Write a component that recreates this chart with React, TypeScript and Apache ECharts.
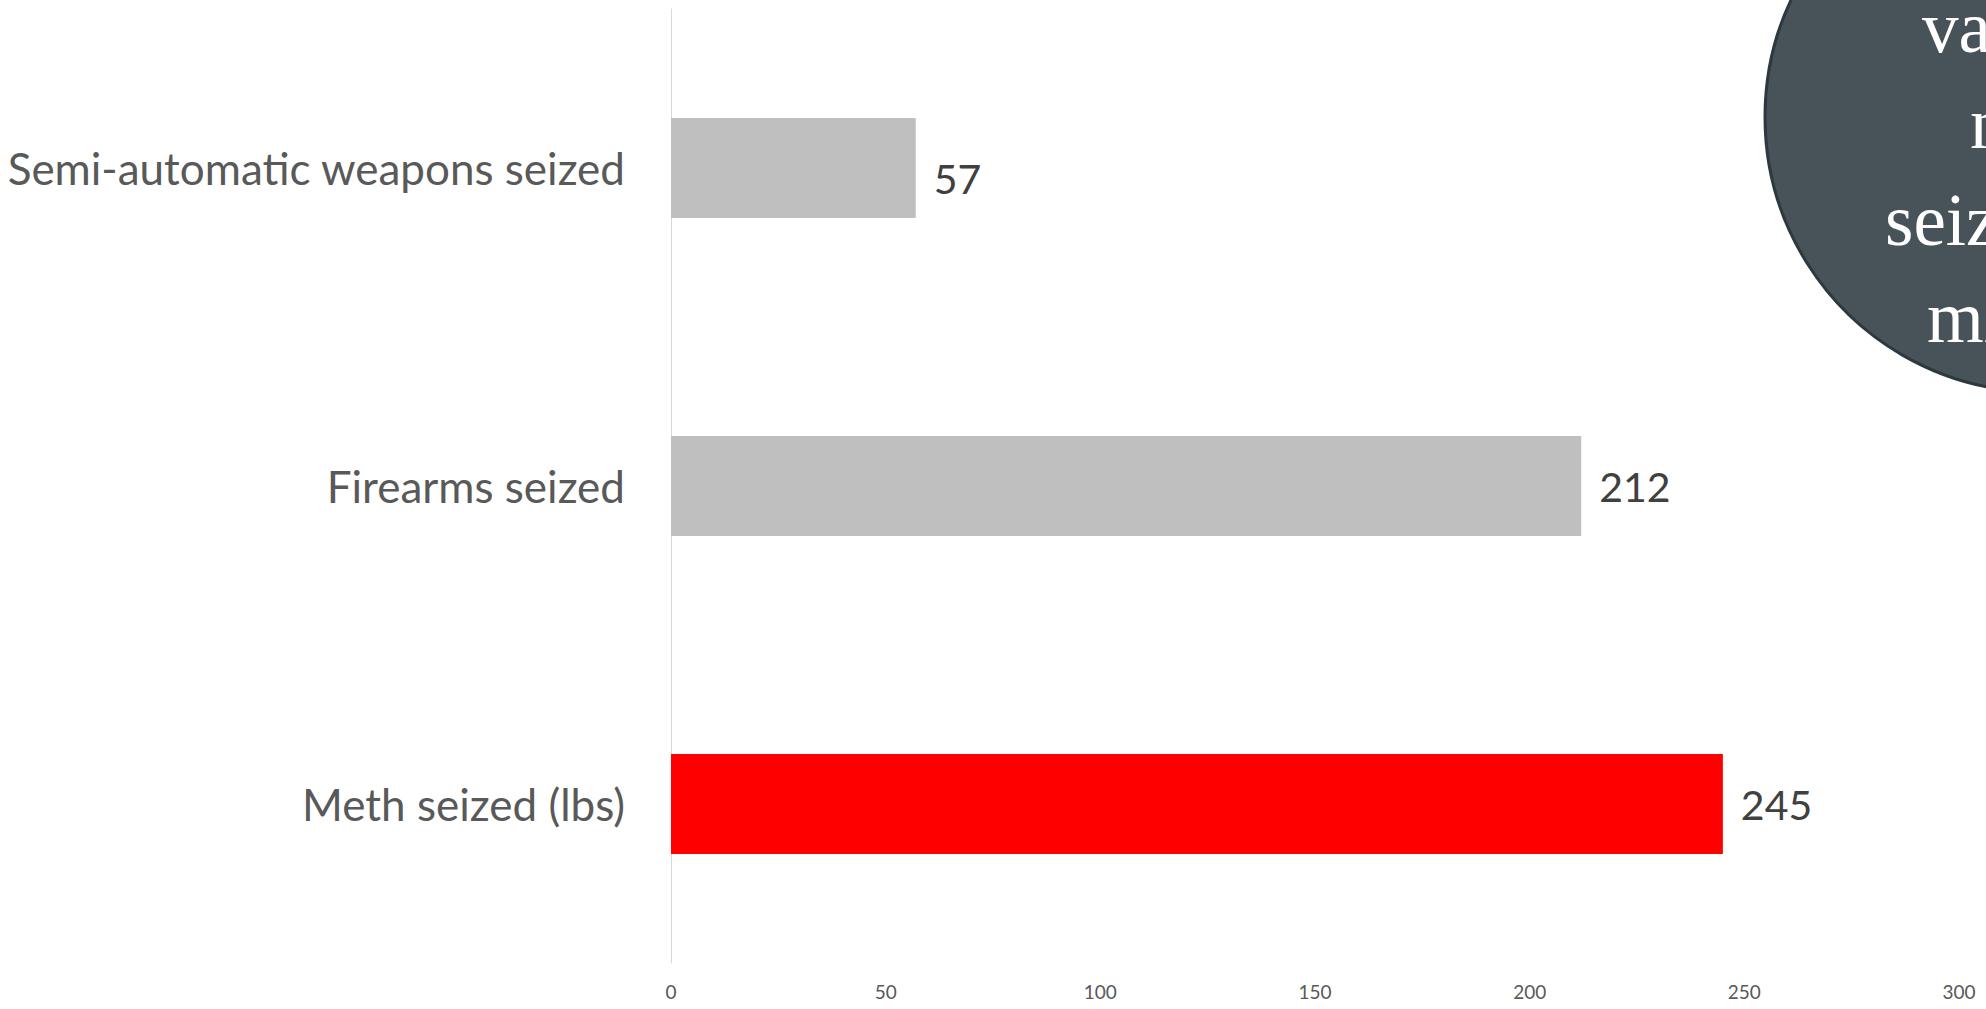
import React, { useEffect, useRef } from "react";
import * as echarts from "echarts";

const categories = ["Semi-automatic weapons seized", "Firearms seized", "Meth seized (lbs)"];
const values = [57, 212, 245];
const barColors = ["#bfbfbf", "#bfbfbf", "#ff0000"];
const labelShift = [10, 0, 0];
const xTicks = { min: 0, max: 300, interval: 50 };
const bubbleLines = ["Estimated street", "value of", "narcotics", "seized in", "million"];

export default function App() {
  const ref = useRef<HTMLDivElement>(null);
  useEffect(() => {
    if (!ref.current) return;
    const chart = echarts.init(ref.current, null, { renderer: "svg" });
    const lineX = [1900, 1922, 1970, 1885, 1927];
    const lineY = [-34, 64, 160, 257, 354];
    chart.setOption({
      animation: false,
      backgroundColor: "#ffffff",
      grid: { left: 671, right: 27, top: 9, bottom: 46, containLabel: false },
      xAxis: {
        type: "value",
        min: xTicks.min,
        max: xTicks.max,
        interval: xTicks.interval,
        axisLine: { show: false },
        axisTick: { show: false },
        splitLine: { show: false },
        axisLabel: { color: "#595959", fontFamily: "Lato", fontSize: 19, margin: 19 },
      },
      yAxis: {
        type: "category",
        inverse: true,
        data: categories,
        axisLine: { show: true, lineStyle: { color: "#d9d9d9", width: 1 } },
        axisTick: { show: false },
        axisLabel: { color: "#595959", fontFamily: "Lato", fontSize: 44, margin: 46 },
      },
      series: [
        {
          type: "bar",
          data: values.map((v, i) => ({
            value: v,
            itemStyle: { color: barColors[i] },
            label: { offset: [0, labelShift[i]] },
          })),
          barCategoryGap: "68.5%",
          label: {
            show: true,
            position: "right",
            distance: 18,
            color: "#404040",
            fontFamily: "Lato",
            fontSize: 41,
          },
        },
      ],
      graphic: [
        {
          type: "group",
          children: [
            {
              type: "circle",
              shape: { cx: 2040, cy: 117, r: 275 },
              style: { fill: "#475359", stroke: "#2e393f", lineWidth: 3 },
            },
            ...bubbleLines.map((t, i) => ({
              type: "text",
              x: lineX[i],
              y: lineY[i],
              style: {
                text: t,
                fill: "#ffffff",
                font: '73px "Liberation Serif"',
                textAlign: "left",
                textVerticalAlign: "bottom",
              },
            })),
          ],
        },
      ],
    });
    return () => chart.dispose();
  }, []);
  return <div ref={ref} style={{ width: 1986, height: 1009, position: "absolute", left: 0, top: 0 }} />;
}
